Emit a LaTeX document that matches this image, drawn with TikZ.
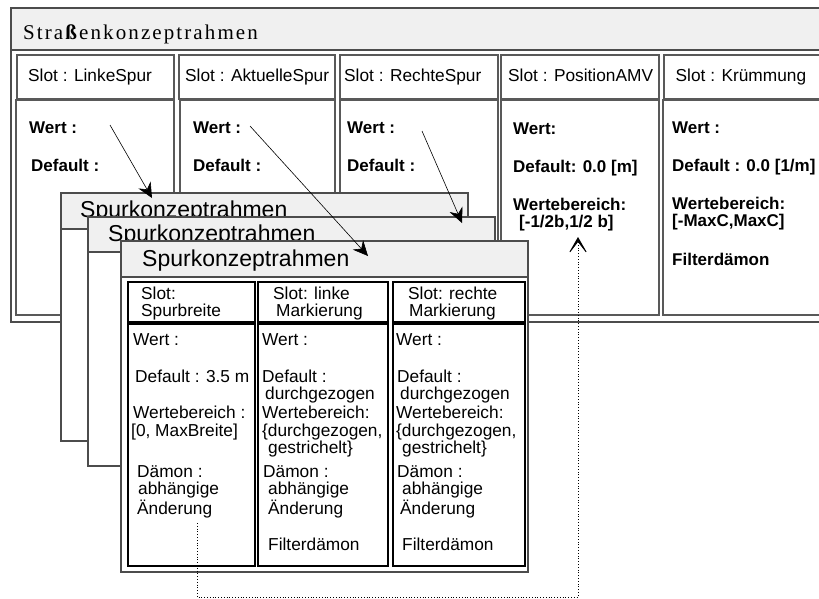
\documentclass[tikz,border=0pt]{standalone}
\usepackage{fontspec}
\setmainfont{Liberation Serif}
\setsansfont{Liberation Sans}
\newfontfamily\rahmenfont[LetterSpace=10]{Liberation Serif}
\usetikzlibrary{arrows.meta}

\begin{document}
\begin{tikzpicture}[x=1pt,y=-1pt]
    \tikzstyle{every node}=[inner sep=0pt,anchor=base west,align=left];
    \tikzstyle{rahmen}=[draw=black!70,line width=1.2pt,fill=white];
    \tikzstyle{kopf}=[draw=black!70,line width=1.2pt,fill=black!6];
    \tikzstyle{slotbox}=[draw=black!65,line width=1.4pt];
    \tikzstyle{innerslot}=[draw=black,line width=1.3pt];
    \tikzstyle{reg}=[font=\sffamily\fontsize{17.3}{17.5}\selectfont];
    \tikzstyle{fett}=[font=\sffamily\bfseries\fontsize{17}{17}\selectfont];
    \tikzstyle{spurtitel}=[font=\sffamily\fontsize{23}{24}\selectfont];
    \tikzstyle{pfeil}=[-{Stealth[length=15pt,width=14pt,inset=5pt]},line width=0.6pt];
    \tikzstyle{daemonpfeil}=[dotted,line width=0.8pt,-{Stealth[length=20pt,width=23pt,inset=15pt]}];
    %multi-line nodes: placed at the baseline of their last line

    \useasboundingbox (0,0) rectangle (819,598);
    \clip (0,0) rectangle (819,598);

    % Strassenkonzeptrahmen
    \draw[rahmen] (11,8) rectangle (830,322);
    \draw[kopf] (11,8) rectangle (830,50);
    \node (strasse) at (23,39) {\rahmenfont\fontsize{21}{23}\selectfont Stra\textbf{ß}enkonzeptrahmen};

    \draw[slotbox] (17,55) rectangle (174,99) (16,100) rectangle (174,315);
    \draw[slotbox] (179,55) rectangle (335,99) (180,100) rectangle (335,315);
    \draw[slotbox] (340,55) rectangle (498,99) (340,100) rectangle (498,315);
    \draw[slotbox] (501,55) rectangle (659,99) (501,100) rectangle (659,315);
    \draw[slotbox] (664,55) rectangle (830,99) (663,100) rectangle (830,315);

    \node[reg] (slotLinke) at (28,81.5) {Slot : LinkeSpur};
    \node[reg] (slotAktuelle) at (185,81.5) {Slot : AktuelleSpur};
    \node[reg] (slotRechte) at (344,81.5) {Slot : RechteSpur};
    \node[reg] (slotAMV) at (508,81.5) {Slot : PositionAMV};
    \node[reg] (slotKruemmung) at (675.5,81.5) {Slot : Krümmung};

    \node[fett] (wertLinke) at (29,171) {Wert :\\[21pt]\hspace*{2pt}Default :};
    \node[fett] (wertAktuelle) at (193,171) {Wert :\\[21pt]Default :};
    \node[fett] (wertRechte) at (347,171) {Wert :\\[21pt]Default :};
    \node[fett] (wertAMV) at (513,227) {Wert:\\[21.5pt]Default: 0.0 [m]\\[21pt]Wertebereich:\\[-0.5pt]\hspace*{6pt}[-1/2b,1/2 b]};
    \node[fett] (wertKruemmung) at (672,265) {Wert :\\[21pt]Default : 0.0 [1/m]\\[21pt]Wertebereich:\\{}[-MaxC,MaxC]\\[22pt]Filterdämon};

    % Spurkonzeptrahmen, hinten
    \draw[rahmen] (61,193) rectangle (468,441);
    \draw[kopf] (61,193) rectangle (468,229);
    \node[spurtitel] (spurHinten) at (80,217) {Spurkonzeptrahmen};

    % Spurkonzeptrahmen, Mitte
    \draw[rahmen] (88,217) rectangle (495,466);
    \draw[kopf] (88,217) rectangle (495,252);
    \node[spurtitel] (spurMitte) at (108,241) {Spurkonzeptrahmen};

    % Spurkonzeptrahmen, vorne
    \draw[rahmen] (121,241) rectangle (528,572);
    \draw[kopf] (121,241) rectangle (528,277);
    \node[spurtitel] (spurVorne) at (142,266) {Spurkonzeptrahmen};

    \draw[innerslot] (128,282) rectangle (255,322) (128,324) rectangle (255,566);
    \draw[innerslot] (258,282) rectangle (388,322) (258,324) rectangle (388,566);
    \draw[innerslot] (393,282) rectangle (525,322) (393,324) rectangle (525,566);

    \node[reg] (slotBreite) at (141,316.5) {Slot:\\Spurbreite};
    \node[reg] (slotLinkeM) at (273,316.5) {Slot: linke\\\hspace*{3pt}Markierung};
    \node[reg] (slotRechteM) at (408,316.5) {Slot: rechte\\\hspace*{1pt}Markierung};

    \node[reg] (breite) at (131,514) {\hspace*{2pt}Wert :\\[19.8pt]\hspace*{4pt}Default : 3.5 m\\[18.5pt]\hspace*{2pt}Wertebereich :\\[0.5pt][0, MaxBreite]\\[23.5pt]\hspace*{6pt}Dämon :\\[-0.5pt]\hspace*{7pt}abhängige\\[0.5pt]\hspace*{6pt}Änderung};
    \node[reg] (linkeM) at (262,550) {Wert :\\[19.8pt]Default :\\[-0.5pt]\hspace*{3pt}durchgezogen\\[1.5pt]Wertebereich:\\[0.5pt]\{durchgezogen,\\[-0.5pt]\hspace*{6pt}gestrichelt\}\\[6.5pt]\hspace*{1pt}Dämon :\\[-0.5pt]\hspace*{6pt}abhängige\\[0.5pt]\hspace*{6pt}Änderung\\[18.5pt]\hspace*{6pt}Filterdämon};
    \node[reg] (rechteM) at (396,550) {Wert :\\[19.8pt]\hspace*{1pt}Default :\\[-0.5pt]\hspace*{4pt}durchgezogen\\[1.5pt]Wertebereich:\\[0.5pt]\{durchgezogen,\\[-0.5pt]\hspace*{6pt}gestrichelt\}\\[6.5pt]\hspace*{1pt}Dämon :\\[-0.5pt]\hspace*{6pt}abhängige\\[0.5pt]\hspace*{4pt}Änderung\\[18.5pt]\hspace*{6pt}Filterdämon};

    % Verweise
    \coordinate (vonLinke) at (110,125);
    \coordinate (zuHinten) at (152,198);
    \coordinate (vonAktuelle) at (250,126);
    \coordinate (zuVorne) at (368,256);
    \coordinate (vonRechte) at (422,131);
    \coordinate (zuMitte) at (462,223);
    \draw[pfeil] (vonLinke) -- (zuHinten);
    \draw[pfeil] (vonAktuelle) -- (zuVorne);
    \draw[pfeil] (vonRechte) -- (zuMitte);

    \coordinate (vonDaemon) at (197,523);
    \coordinate (knickLinks) at (197,597);
    \coordinate (knickRechts) at (578,597);
    \coordinate (zuAMV) at (578,237);
    \draw[daemonpfeil] (vonDaemon) -- (knickLinks) -- (knickRechts) -- (zuAMV);
\end{tikzpicture}
\end{document}
